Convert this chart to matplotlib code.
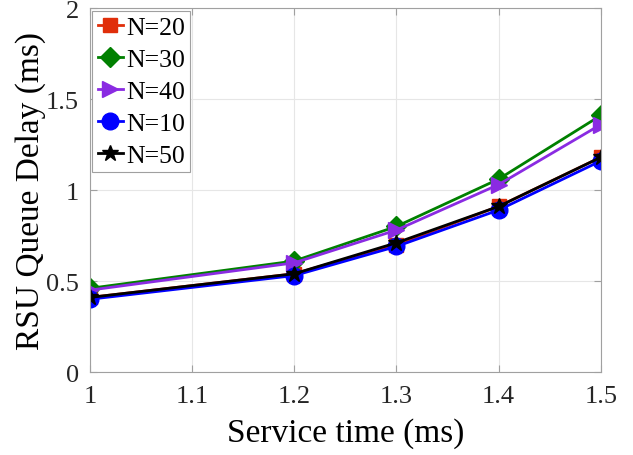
import matplotlib
matplotlib.use('Agg')
import matplotlib.pyplot as plt

# Service time (ms)
service_time = [1.0, 1.2, 1.3, 1.4, 1.5]

# RSU queue delay (ms) per number of vehicles
delay_n20 = [0.41, 0.54, 0.70, 0.91, 1.18]
delay_n30 = [0.46, 0.61, 0.80, 1.06, 1.41]
delay_n40 = [0.45, 0.60, 0.78, 1.03, 1.36]
delay_n10 = [0.40, 0.53, 0.69, 0.89, 1.16]
delay_n50 = [0.41, 0.54, 0.71, 0.91, 1.18]

plt.rcParams['font.family'] = ['Liberation Serif', 'DejaVu Serif']

fig = plt.figure(figsize=(6.33, 4.56), dpi=100)
ax = fig.add_axes([0.142, 0.182, 0.807, 0.798])

ax.plot(service_time, delay_n20, color='#E02E0A', marker='s', markersize=10, linewidth=2, label='N=20')
ax.plot(service_time, delay_n30, color='#008000', marker='D', markersize=10, linewidth=2, label='N=30')
ax.plot(service_time, delay_n40, color='#8A2BE2', marker='>', markersize=12, linewidth=2, label='N=40')
ax.plot(service_time, delay_n10, color='#0000FF', marker='o', markersize=12, linewidth=2, label='N=10')
ax.plot(service_time, delay_n50, color='black', marker='*', markersize=12, linewidth=2, label='N=50')

ax.set_xlim(1, 1.5)
ax.set_ylim(0, 2)
ax.set_xticks([1, 1.1, 1.2, 1.3, 1.4, 1.5])
ax.set_xticklabels(['1', '1.1', '1.2', '1.3', '1.4', '1.5'])
ax.set_yticks([0, 0.5, 1, 1.5, 2])
ax.set_yticklabels(['0', '0.5', '1', '1.5', '2'])

ax.grid(True, color='#e6e6e6', linewidth=0.8)
ax.set_axisbelow(True)
for s in ax.spines.values():
    s.set_color('#a0a0a0')
    s.set_linewidth(0.8)
ax.tick_params(direction='in', labelsize=19, colors='#a0a0a0', labelcolor='#262626', length=5, top=True, right=True)
ax.tick_params(axis='x', pad=9)
ax.tick_params(axis='y', pad=8)

ax.set_xlabel('Service time (ms)', fontsize=24, color='black', labelpad=8)
ax.set_ylabel('RSU Queue Delay (ms)', fontsize=24, color='black', labelpad=0)

leg = ax.legend(loc='upper left', fontsize=18.5, handlelength=1.0, handletextpad=0.1,
                borderpad=0.2, labelspacing=0.35, borderaxespad=0.1, fancybox=False, framealpha=1)
leg.get_frame().set_edgecolor('#a0a0a0')
leg.get_frame().set_linewidth(0.8)

fig.savefig('out.png', dpi=100)
